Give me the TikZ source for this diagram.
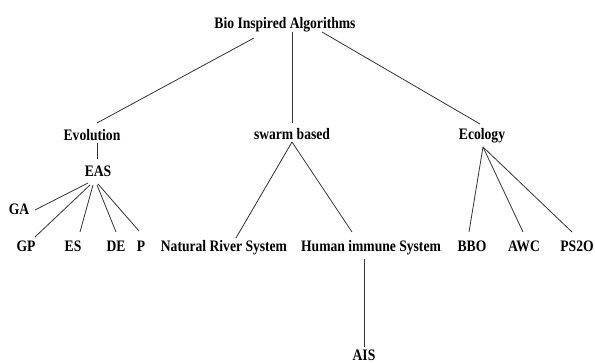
\documentclass[tikz,border=0pt]{standalone}
\usepackage{fontspec}
\setmainfont{Liberation Serif}[FakeStretch=0.85]
\begin{document}
\begin{tikzpicture}[x=1pt,y=-1pt,
  lbl/.style={font=\fontsize{16}{19}\selectfont\bfseries, inner sep=0pt, anchor=base, text=black},
  edge/.style={draw=black!80, line width=0.8pt}]
\fill[white] (0,0) rectangle (595,363);
\useasboundingbox (0,0) rectangle (595,363);
\node[lbl] (root) at (285,29) {Bio Inspired Algorithms};
\node[lbl] (evo) at (92,141) {Evolution};
\node[lbl] (swarm) at (292,140) {swarm based};
\node[lbl] (eco) at (482,140) {Ecology};
\node[lbl] (eas) at (98,177) {EAS};
\node[lbl] (ga) at (19,215) {GA};
\node[lbl] (gp) at (26,252) {GP};
\node[lbl] (es) at (73,252) {ES};
\node[lbl] (de) at (116,252) {DE};
\node[lbl] (p) at (141,252) {P};
\node[lbl] (nrs) at (224,252) {Natural River System};
\node[lbl] (his) at (371,252) {Human immune System};
\node[lbl] (bbo) at (472,252) {BBO};
\node[lbl] (awc) at (524,252) {AWC};
\node[lbl] (ps2o) at (577,252) {PS2O};
\node[lbl] (ais) at (364,361) {AIS};
\draw[edge] ([shift={(-31,9)}]root.base) -- ([shift={(5,-18)}]evo.base);
\draw[edge] ([shift={(7,3)}]root.base) -- ([shift={(0,-17)}]swarm.base);
\draw[edge] ([shift={(37,3)}]root.base) -- ([shift={(-2,-16)}]eco.base);
\draw[edge] ([shift={(5,2)}]evo.base) -- ([shift={(-1,-18)}]eas.base);
\draw[edge] ([shift={(-10,6)}]eas.base) -- ([shift={(16,-5)}]ga.base);
\draw[edge] ([shift={(-8,8)}]eas.base) -- ([shift={(9,-15)}]gp.base);
\draw[edge] ([shift={(-5,8)}]eas.base) -- ([shift={(7,-20)}]es.base);
\draw[edge] ([shift={(-1,8)}]eas.base) -- ([shift={(0,-20)}]de.base);
\draw[edge] ([shift={(0,7)}]eas.base) -- ([shift={(-2,-21)}]p.base);
\draw[edge] ([shift={(0,2)}]swarm.base) -- ([shift={(12,-14)}]nrs.base);
\draw[edge] ([shift={(0,2)}]swarm.base) -- ([shift={(-19,-20)}]his.base);
\draw[edge] ([shift={(1,7)}]eco.base) -- ([shift={(-3,-20)}]bbo.base);
\draw[edge] ([shift={(1,7)}]eco.base) -- ([shift={(-1,-20)}]awc.base);
\draw[edge] ([shift={(1,7)}]eco.base) -- ([shift={(-5,-20)}]ps2o.base);
\draw[edge] ([shift={(-7,7)}]his.base) -- ([shift={(0,-14)}]ais.base);
\end{tikzpicture}
\end{document}
